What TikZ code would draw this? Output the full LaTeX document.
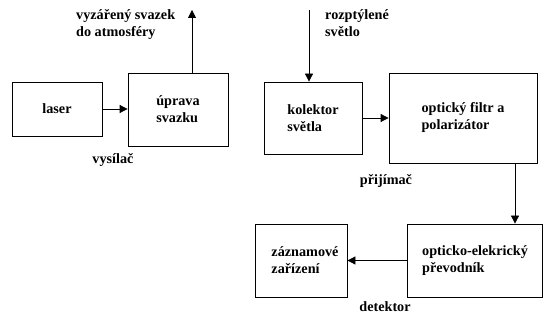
\documentclass[tikz,border=0pt]{standalone}
\usepackage{fontspec}
\setmainfont{Liberation Serif}
\usetikzlibrary{arrows.meta}
\tikzset{
  blok/.style={draw, line width=0.8pt, align=left, inner sep=0pt},
  popis/.style={align=left, inner sep=0pt},
}
\begin{document}
\begin{tikzpicture}[x=1pt, y=-1pt, >={Triangle[length=8pt,width=8pt]}, font=\bfseries\fontsize{14.2}{17}\selectfont]
\useasboundingbox (0,0) rectangle (543,320);
% vysilac
\node[blok, minimum width=90pt, minimum height=54pt] (laser) at (57,109) {laser};
\node[blok, minimum width=100pt, minimum height=73pt] (uprava) at (178,109.5) {úprava\\svazku};
\node[popis] (vysilac) at (113,160) {vysílač};
\coordinate (paprsek) at (192,10);
\draw[line width=0.8pt, ->] (laser.east) -- (uprava.west |- laser.east);
\draw[line width=0.8pt, ->] (uprava.north -| paprsek) -- (paprsek);
\node[popis, anchor=north west] (svazek) at (76,9) {vyzářený svazek\\do atmosféry};
% prijimac
\node[blok, minimum width=98pt, minimum height=72pt] (kolektor) at (313,118) {kolektor\\světla};
\node[blok, minimum width=148pt, minimum height=90pt] (filtr) at (463,118) {optický filtr a\\polarizátor};
\node[popis] (prijimac) at (386,181) {přijímač};
\coordinate (rozptyl) at (309,10);
\draw[line width=0.8pt, ->] (rozptyl) -- (rozptyl |- kolektor.north);
\node[popis, anchor=north west] (svetlo) at (325,9) {rozptýlené\\světlo};
\draw[line width=0.8pt, ->] (kolektor.east) -- (filtr.west |- kolektor.east);
% detektor
\node[blok, minimum width=135pt, minimum height=73pt] (prevodnik) at (475,260.5) {opticko-elekrický\\převodník};
\node[blok, minimum width=92pt, minimum height=73pt] (zaznam) at (301,260.5) {\hspace*{8pt}záznamové\\\hspace*{8pt}zařízení};
\node[popis] (detektor) at (385,307) {detektor};
\coordinate (dolu) at (515,0);
\draw[line width=0.8pt, ->] (filtr.south -| dolu) -- (prevodnik.north -| dolu);
\draw[line width=0.8pt, ->] (prevodnik.west) -- (zaznam.east |- prevodnik.west);
\end{tikzpicture}
\end{document}
